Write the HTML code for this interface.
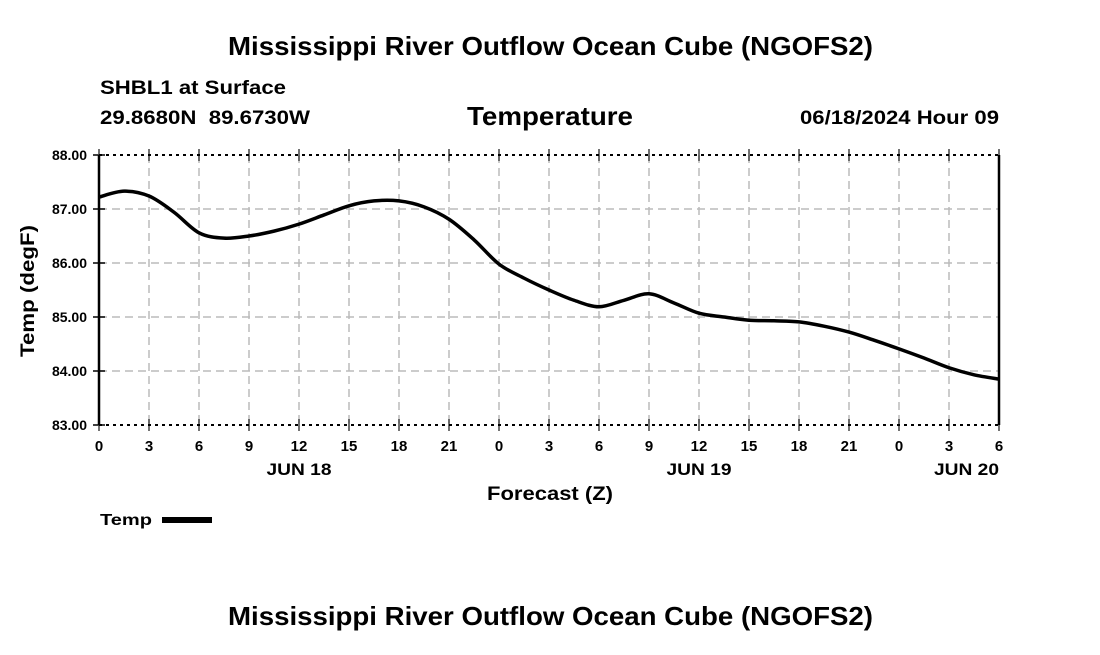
<!DOCTYPE html>
<html><head><meta charset="utf-8"><style>
body{margin:0;background:#fff;}
svg text{font-family:"Liberation Sans",sans-serif;font-weight:bold;fill:#000;}
</style></head><body>
<svg id="chart" width="1100" height="650" xmlns="http://www.w3.org/2000/svg">
<rect width="1100" height="650" fill="#fff"/>
<text x="228" y="55" font-size="26" textLength="645" lengthAdjust="spacingAndGlyphs">Mississippi River Outflow Ocean Cube (NGOFS2)</text>
<text x="100" y="94" font-size="19" textLength="186" lengthAdjust="spacingAndGlyphs">SHBL1 at Surface</text>
<text x="100" y="124" font-size="19" xml:space="preserve" textLength="210" lengthAdjust="spacingAndGlyphs">29.8680N  89.6730W</text>
<text x="467" y="125" font-size="26" textLength="166" lengthAdjust="spacingAndGlyphs">Temperature</text>
<text x="800" y="124" font-size="19" textLength="199" lengthAdjust="spacingAndGlyphs">06/18/2024 Hour 09</text>
<g id="grid"></g>
<g id="axes"></g>
<path id="line" fill="none" stroke="#000" stroke-width="3.5"/>
<text transform="translate(34,357) rotate(-90)" font-size="19" textLength="132" lengthAdjust="spacingAndGlyphs">Temp (degF)</text>
<text x="487" y="500" font-size="19" textLength="126" lengthAdjust="spacingAndGlyphs">Forecast (Z)</text>
<text x="100" y="525" font-size="16" textLength="52" lengthAdjust="spacingAndGlyphs">Temp</text>
<rect x="162" y="517" width="50" height="6" fill="#000"/>
<text x="228" y="625" font-size="26" textLength="645" lengthAdjust="spacingAndGlyphs">Mississippi River Outflow Ocean Cube (NGOFS2)</text>
</svg>
<script>
const hours=[0,1.5,3,4.5,6,7.5,9,10.5,12,13.5,15,16.5,18,19.5,21,22.5,24,25.5,27,28.5,30,31.5,33,34.5,36,37.5,39,40.5,42,43.5,45,46.5,48,49.5,51,52.5,54];
const temps=[87.22,87.33,87.24,86.94,86.56,86.46,86.5,86.59,86.72,86.89,87.06,87.15,87.15,87.04,86.81,86.43,85.98,85.72,85.5,85.31,85.19,85.31,85.43,85.26,85.07,85.0,84.94,84.93,84.91,84.83,84.72,84.57,84.41,84.24,84.06,83.93,83.85];
const yTicks=[83,84,85,86,87,88];
const xTickHours=[0,3,6,9,12,15,18,21,24,27,30,33,36,39,42,45,48,51,54];
const xTickLabels=["0","3","6","9","12","15","18","21","0","3","6","9","12","15","18","21","0","3","6"];
const dayLabels=["JUN 18","JUN 19","JUN 20"];
const dayHours=[12,36,54];
const X0=99,X1=999,Y0=425,Y1=155,xmin=0,xmax=54,ymin=83,ymax=88;
const sx=h=>X0+(h-xmin)/(xmax-xmin)*(X1-X0);
const sy=v=>Y0-(v-ymin)/(ymax-ymin)*(Y0-Y1);
const NS="http://www.w3.org/2000/svg";
function mk(tag,attrs,parent){const e=document.createElementNS(NS,tag);for(const k in attrs)e.setAttribute(k,attrs[k]);parent.appendChild(e);return e;}
const grid=document.getElementById('grid'),axes=document.getElementById('axes');
yTicks.forEach(v=>{
  const y=sy(v);
  if(v>ymin&&v<ymax){const l=mk('line',{x1:X0,x2:X1,y1:y,y2:y,stroke:'#bbb','stroke-width':1.5,'stroke-dasharray':'8,5'},grid);
  
  }
  const t=mk('line',{x1:X0-6,x2:X0+6,y1:y,y2:y,stroke:'#000','stroke-width':1.5},axes);
  
  
  const tx=mk('text',{x:X0-12,y:y+5,'font-size':14,'text-anchor':'end'},axes);tx.textContent=v.toFixed(2);
  
  
});
xTickHours.forEach((h,i)=>{
  const x=sx(h);
  if(h>xmin&&h<xmax){const l=mk('line',{x1:x,x2:x,y1:Y1,y2:Y0,stroke:'#bbb','stroke-width':1.5,'stroke-dasharray':'8,5'},grid);
  
  }
  [Y0,Y1].forEach(yy=>{const t=mk('line',{x1:x,x2:x,y1:yy-6,y2:yy+6,stroke:'#444','stroke-width':1.5},axes);
  
  });
  const tx=mk('text',{x:x,y:Y0+26,'font-size':15,'text-anchor':'middle'},axes);tx.textContent=xTickLabels[i];
  
  
});
dayLabels.forEach((d,i)=>{
  const cx=Math.min(sx(dayHours[i]),X1-32.5);
  const tx=mk('text',{x:cx-32.5,y:Y0+50,'font-size':17,textLength:65,lengthAdjust:'spacingAndGlyphs'},axes);tx.textContent=d;
  
  
});
[Y0,Y1].forEach(y=>{const b=mk('line',{x1:X0,x2:X1,y1:y,y2:y,stroke:'#000','stroke-width':2,'stroke-dasharray':'3,4'},axes);

});
[X0,X1].forEach(x=>{const b=mk('line',{x1:x,x2:x,y1:Y1,y2:Y0,stroke:'#000','stroke-width':2.5},axes);

});
const pts=hours.map((h,i)=>[sx(h),sy(temps[i])]);
let d='M'+pts[0][0]+','+pts[0][1];
for(let i=0;i<pts.length-1;i++){
  const p0=pts[Math.max(0,i-1)],p1=pts[i],p2=pts[i+1],p3=pts[Math.min(pts.length-1,i+2)];
  const c1=[p1[0]+(p2[0]-p0[0])/6,p1[1]+(p2[1]-p0[1])/6],c2=[p2[0]-(p3[0]-p1[0])/6,p2[1]-(p3[1]-p1[1])/6];
  d+=`C${c1[0]},${c1[1]} ${c2[0]},${c2[1]} ${p2[0]},${p2[1]}`;
}
document.getElementById('line').setAttribute('d',d);
</script>
</body></html>
